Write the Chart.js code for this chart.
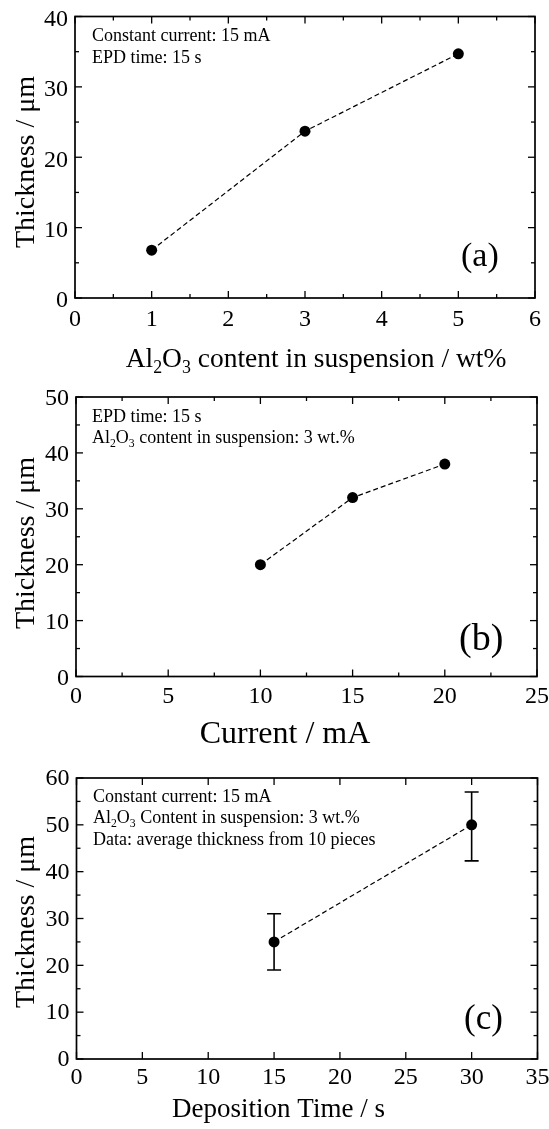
<!DOCTYPE html>
<html>
<head>
<meta charset="utf-8">
<script src="https://cdn.jsdelivr.net/npm/chart.js@4.4.1/dist/chart.umd.min.js"></script>
<style>
html,body{margin:0;padding:0;background:#fff;}
#wrap{position:relative;width:549px;height:1129px;overflow:hidden;background:#fff;}
canvas{position:absolute;left:0;}
</style>
</head>
<body>
<div id="wrap">
<canvas id="cA" width="549" height="380" style="top:0px"></canvas>
<canvas id="cB" width="549" height="380" style="top:380px"></canvas>
<canvas id="cC" width="549" height="369" style="top:760px"></canvas>
</div>
<script>
// ---------- DATA ----------
const xValsA = [1, 3, 5];
const yValsA = [6.8, 23.7, 34.7];

const xValsB = [10, 15, 20];
const yValsB = [20, 32, 38];

const xValsC = [15, 30];
const yValsC = [25, 50];
const errLowC = [19, 42.3];
const errHighC = [31, 57];

const xTicksA = [0, 1, 2, 3, 4, 5, 6];
const xMinorA = [0.5, 1.5, 2.5, 3.5, 4.5, 5.5];
const yTicksA = [0, 10, 20, 30, 40];
const yMinorA = [5, 15, 25, 35];

const xTicksB = [0, 5, 10, 15, 20, 25];
const xMinorB = [2.5, 7.5, 12.5, 17.5, 22.5];
const yTicksB = [0, 10, 20, 30, 40, 50];
const yMinorB = [5, 15, 25, 35, 45];

const xTicksC = [0, 5, 10, 15, 20, 25, 30, 35];
const xMinorC = [];
const yTicksC = [0, 10, 20, 30, 40, 50, 60];
const yMinorC = [5, 15, 25, 35, 45, 55];

// ---------- HELPERS ----------
const SERIF = '"Liberation Serif", "Times New Roman", serif';
function richWidth(ctx, parts, size) {
  let w = 0;
  parts.forEach(p => {
    ctx.font = (p.sub ? size * 0.65 : size) + 'px ' + SERIF;
    w += ctx.measureText(p.t).width;
  });
  return w;
}
function drawRich(ctx, parts, x, y, size, align) {
  let w = richWidth(ctx, parts, size);
  let cx = align === 'center' ? x - w / 2 : x;
  ctx.textAlign = 'left';
  ctx.textBaseline = 'alphabetic';
  parts.forEach(p => {
    const s = p.sub ? size * 0.65 : size;
    ctx.font = s + 'px ' + SERIF;
    ctx.fillText(p.t, cx, p.sub ? y + size * 0.22 : y);
    cx += ctx.measureText(p.t).width;
  });
}

const framePlugin = {
  id: 'frame',
  beforeDatasetsDraw(chart, args, o) {
    if (!o.errLow) return;
    const ctx = chart.ctx, xs = chart.scales.x, ys = chart.scales.y;
    ctx.save();
    ctx.strokeStyle = '#000';
    ctx.lineWidth = 1.6;
    o.errX.forEach((xv, i) => {
      const px = xs.getPixelForValue(xv);
      const p1 = ys.getPixelForValue(o.errLow[i]);
      const p2 = ys.getPixelForValue(o.errHigh[i]);
      ctx.beginPath();
      ctx.moveTo(px, p1); ctx.lineTo(px, p2);
      ctx.moveTo(px - 7, p1); ctx.lineTo(px + 7, p1);
      ctx.moveTo(px - 7, p2); ctx.lineTo(px + 7, p2);
      ctx.stroke();
    });
    ctx.restore();
  },
  afterDraw(chart, args, o) {
    const ctx = chart.ctx, a = chart.chartArea, xs = chart.scales.x, ys = chart.scales.y;
    ctx.save();
    ctx.strokeStyle = '#000';
    ctx.fillStyle = '#000';
    ctx.lineWidth = 1.3;
    const seg = (x1, y1, x2, y2) => { ctx.beginPath(); ctx.moveTo(x1, y1); ctx.lineTo(x2, y2); ctx.stroke(); };
    const xt = (vals, len) => vals.forEach(v => {
      const px = xs.getPixelForValue(v);
      seg(px, a.bottom, px, a.bottom - len);
      seg(px, a.top, px, a.top + len);
    });
    const yt = (vals, len) => vals.forEach(v => {
      const py = ys.getPixelForValue(v);
      seg(a.left, py, a.left + len, py);
      seg(a.right, py, a.right - len, py);
    });
    xt(o.xMajor, 7); xt(o.xMinor, 4);
    yt(o.yMajor, 7); yt(o.yMinor, 4);
    ctx.lineWidth = 1.7;
    ctx.strokeRect(a.left, a.top, a.right - a.left, a.bottom - a.top);

    // texts, positioned in page coordinates
    ctx.translate(0, -o.offset);
    o.notes.forEach((ln, i) => drawRich(ctx, ln, o.noteX, o.noteY[i], o.noteSize, 'left'));
    drawRich(ctx, o.xTitle, o.xTitleX, o.xTitleY, o.xTitleSize, 'center');
    ctx.font = o.letterSize + 'px ' + SERIF;
    ctx.textAlign = 'left'; ctx.textBaseline = 'alphabetic';
    ctx.fillText(o.letter, o.letterX, o.letterY);
    ctx.save();
    ctx.translate(o.yTitleX, o.yTitleY);
    ctx.rotate(-Math.PI / 2);
    ctx.font = o.yTitleSize + 'px ' + SERIF;
    ctx.textAlign = 'center'; ctx.textBaseline = 'alphabetic';
    ctx.fillText('Thickness / \u03bcm', 0, 0);
    ctx.restore();
    ctx.restore();
  }
};

function makeChart(id, p) {
  const ctxEl = document.getElementById(id);
  const H = ctxEl.height;
  return new Chart(ctxEl, {
    type: 'scatter',
    data: {
      datasets: [{
        data: p.xs.map((x, i) => ({ x: x, y: p.ys[i] })),
        showLine: true,
        borderColor: '#000',
        borderWidth: 1.2,
        borderDash: [5, 3],
        pointRadius: 5.5,
        pointHoverRadius: 5.5,
        pointBackgroundColor: '#000',
        pointBorderColor: '#000',
        pointBorderWidth: 0
      }]
    },
    options: {
      responsive: false,
      animation: false,
      devicePixelRatio: 1,
      events: [],
      layout: { padding: { left: 0, right: 549 - p.area.right, top: p.area.top, bottom: 0 } },
      plugins: {
        legend: { display: false },
        tooltip: { enabled: false },
        frame: p.frame
      },
      scales: {
        x: {
          type: 'linear',
          min: p.xTicks[0], max: p.xTicks[p.xTicks.length - 1],
          afterBuildTicks: s => { s.ticks = p.xTicks.map(v => ({ value: v })); },
          afterFit: s => { s.height = H - p.area.bottom; s.paddingLeft = 0; s.paddingRight = 0; },
          grid: { display: false, drawTicks: false },
          border: { display: false },
          ticks: {
            color: '#000', padding: p.xPad, autoSkip: false, maxRotation: 0,
            font: { family: SERIF, size: 24, lineHeight: 1 }
          }
        },
        y: {
          type: 'linear',
          min: p.yTicks[0], max: p.yTicks[p.yTicks.length - 1],
          afterBuildTicks: s => { s.ticks = p.yTicks.map(v => ({ value: v })); },
          afterFit: s => { s.width = p.area.left; s.paddingTop = 0; s.paddingBottom = 0; },
          grid: { display: false, drawTicks: false },
          border: { display: false },
          ticks: {
            color: '#000', padding: 7, autoSkip: false, labelOffset: p.yOff,
            font: { family: SERIF, size: 24, lineHeight: 1 }
          }
        }
      }
    },
    plugins: [framePlugin]
  });
}

const AL2O3 = [{ t: 'Al' }, { t: '2', sub: true }, { t: 'O' }, { t: '3', sub: true }];

makeChart('cA', {
  xs: xValsA, ys: yValsA, xTicks: xTicksA, yTicks: yTicksA,
  area: { left: 75, right: 535, top: 16.5, bottom: 298 },
  xPad: 10, yOff: 3,
  frame: {
    offset: 0, xMajor: xTicksA, xMinor: xMinorA, yMajor: yTicksA, yMinor: yMinorA,
    notes: [[{ t: 'Constant current: 15 mA' }], [{ t: 'EPD time: 15 s' }]],
    noteX: 92, noteY: [41, 63], noteSize: 18,
    xTitle: AL2O3.concat([{ t: ' content in suspension / wt%' }]),
    xTitleX: 316, xTitleY: 367, xTitleSize: 27.5,
    letter: '(a)', letterX: 461, letterY: 266, letterSize: 34,
    yTitleX: 33.5, yTitleY: 162, yTitleSize: 28
  }
});

makeChart('cB', {
  xs: xValsB, ys: yValsB, xTicks: xTicksB, yTicks: yTicksB,
  area: { left: 76, right: 537, top: 17, bottom: 296.5 },
  xPad: 8, yOff: 2,
  frame: {
    offset: 380, xMajor: xTicksB, xMinor: xMinorB, yMajor: yTicksB, yMinor: yMinorB,
    notes: [[{ t: 'EPD time: 15 s' }], AL2O3.concat([{ t: ' content in suspension: 3 wt.%' }])],
    noteX: 92, noteY: [422, 443], noteSize: 18,
    xTitle: [{ t: 'Current / mA' }],
    xTitleX: 285, xTitleY: 743, xTitleSize: 32,
    letter: '(b)', letterX: 459, letterY: 650, letterSize: 38,
    yTitleX: 33.5, yTitleY: 543, yTitleSize: 28
  }
});

makeChart('cC', {
  xs: xValsC, ys: yValsC, xTicks: xTicksC, yTicks: yTicksC,
  area: { left: 76.5, right: 537.5, top: 18, bottom: 299 },
  xPad: 6.5, yOff: 1,
  frame: {
    offset: 760, xMajor: xTicksC, xMinor: xMinorC, yMajor: yTicksC, yMinor: yMinorC,
    errX: xValsC, errLow: errLowC, errHigh: errHighC,
    notes: [[{ t: 'Constant current: 15 mA' }], AL2O3.concat([{ t: ' Content in suspension: 3 wt.%' }]), [{ t: 'Data: average thickness from 10 pieces' }]],
    noteX: 93, noteY: [802, 823, 845], noteSize: 18,
    xTitle: [{ t: 'Deposition Time / s' }],
    xTitleX: 278.5, xTitleY: 1117, xTitleSize: 27,
    letter: '(c)', letterX: 464, letterY: 1029, letterSize: 35,
    yTitleX: 33.5, yTitleY: 922, yTitleSize: 28
  }
});
</script>
</body>
</html>
